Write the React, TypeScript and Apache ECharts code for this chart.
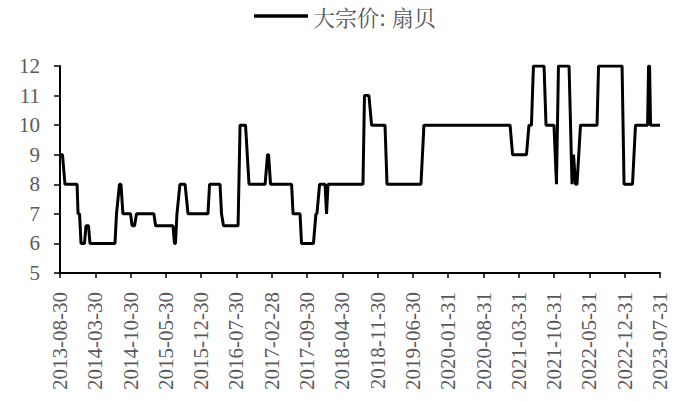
import React, { useEffect, useRef } from "react";
import * as echarts from "echarts";

const SERIES_NAME = "大宗价: 扇贝";

const TICK_LABELS = [
  "2013-08-30", "2014-03-30", "2014-10-30", "2015-05-30", "2015-12-30",
  "2016-07-30", "2017-02-28", "2017-09-30", "2018-04-30", "2018-11-30",
  "2019-06-30", "2020-01-31", "2020-08-31", "2021-03-31", "2021-10-31",
  "2022-05-31", "2022-12-31", "2023-07-31",
];

// change points of the price series (date, value)
const DATES = [
  "2013-08-30", "2013-09-14", "2013-09-29", "2013-12-11", "2013-12-17", "2013-12-26",
  "2014-01-04", "2014-01-25", "2014-02-03", "2014-02-18", "2014-02-27", "2014-07-28",
  "2014-08-06", "2014-08-24", "2014-09-02", "2014-09-14", "2014-10-30", "2014-11-08",
  "2014-11-23", "2014-12-05", "2015-03-20", "2015-03-30", "2015-07-13", "2015-07-22",
  "2015-07-28", "2015-08-06", "2015-08-24", "2015-09-24", "2015-10-12", "2016-02-09",
  "2016-02-19", "2016-04-22", "2016-05-01", "2016-05-13", "2016-08-09", "2016-08-21",
  "2016-09-23", "2016-10-14", "2017-01-19", "2017-02-03", "2017-02-09", "2017-02-21",
  "2017-06-28", "2017-07-07", "2017-08-18", "2017-08-27", "2017-11-07", "2017-11-22",
  "2017-11-28", "2017-12-14", "2018-01-16", "2018-01-25", "2018-02-03", "2018-09-02",
  "2018-09-11", "2018-10-08", "2018-10-24", "2019-01-13", "2019-01-25", "2019-08-18",
  "2019-09-05", "2021-02-06", "2021-02-21", "2021-05-16", "2021-05-31", "2021-06-15",
  "2021-06-27", "2021-08-30", "2021-09-11", "2021-10-29", "2021-11-13", "2021-11-25",
  "2022-01-28", "2022-02-15", "2022-02-24", "2022-03-08", "2022-03-17", "2022-04-07",
  "2022-07-16", "2022-07-25", "2022-12-14", "2022-12-26", "2023-02-15", "2023-03-05",
  "2023-05-17", "2023-05-23", "2023-05-29", "2023-06-04", "2023-07-31",
];

const VALUES = [
  9, 9, 8, 8, 7, 7,
  6, 6, 6.6, 6.6, 6, 6,
  7, 8, 8, 7, 7, 6.6,
  6.6, 7, 7, 6.6, 6.6, 6,
  6, 7, 8, 8, 7, 7,
  8, 8, 7, 6.6, 6.6, 10,
  10, 8, 8, 9, 9, 8,
  8, 7, 7, 6, 6, 7,
  7, 8, 8, 7, 8, 8,
  11, 11, 10, 10, 8, 8,
  10, 10, 9, 9, 10, 10,
  12, 12, 10, 10, 8, 12,
  12, 8, 9, 8, 8, 10,
  10, 12, 12, 8, 8, 10,
  10, 12, 12, 10, 10,
];

const Y_MIN = 5;
const Y_MAX = 12;

const START = Date.parse(TICK_LABELS[0]);
const END = Date.parse(TICK_LABELS[TICK_LABELS.length - 1]);
const STEP_DAYS = (END - START) / 86400000 / (TICK_LABELS.length - 1);
const toX = (d: string) => (Date.parse(d) - START) / 86400000 / STEP_DAYS;

export default function App() {
  const ref = useRef<HTMLDivElement>(null);
  useEffect(() => {
    if (!ref.current) return;
    document.body.style.margin = "0";
    const chart = echarts.init(ref.current, null, { renderer: "svg" });
    const font = "Times New Roman, Liberation Serif, serif";
    chart.setOption({
      animation: false,
      backgroundColor: "#ffffff",
      legend: {
        top: 5,
        left: 254,
        padding: 0,
        itemWidth: 54,
        itemHeight: 12,
        itemGap: 4,
        textStyle: {
          fontSize: 22,
          color: "#595959",
          fontFamily: "Noto Serif CJK SC, Noto Sans CJK SC",
        },
        data: [{ name: SERIES_NAME, icon: "path://M0,0L54,0L54,3.5L0,3.5Z", itemStyle: { color: "#000" } }],
      },
      grid: { left: 60, right: 25, top: 66, bottom: 128, containLabel: false, outerBoundsMode: "none" },
      xAxis: {
        type: "value",
        min: 0,
        max: TICK_LABELS.length - 1,
        interval: 1,
        splitLine: { show: false },
        axisLine: { lineStyle: { color: "#000", width: 2 } },
        axisTick: { show: true, length: 5, lineStyle: { color: "#000", width: 1.5 } },
        axisLabel: {
          rotate: 90,
          margin: 19,
          fontSize: 21,
          color: "#595959",
          fontFamily: font,
          formatter: (v: number) => TICK_LABELS[Math.round(v)] ?? "",
        },
      },
      yAxis: {
        type: "value",
        min: Y_MIN,
        max: Y_MAX,
        interval: 1,
        splitLine: { show: false },
        axisLine: { show: true, lineStyle: { color: "#000", width: 2 } },
        axisTick: { show: true, length: 6, lineStyle: { color: "#000", width: 1.5 } },
        axisLabel: { margin: 20, fontSize: 21, color: "#595959", fontFamily: font },
      },
      series: [
        {
          name: SERIES_NAME,
          type: "line",
          showSymbol: false,
          symbol: "none",
          lineStyle: { color: "#000", width: 3 },
          itemStyle: { color: "#000" },
          data: DATES.map((d, i) => [toX(d), VALUES[i]]),
        },
      ],
    });
    return () => chart.dispose();
  }, []);
  return <div ref={ref} style={{ width: 685, height: 401 }} />;
}
